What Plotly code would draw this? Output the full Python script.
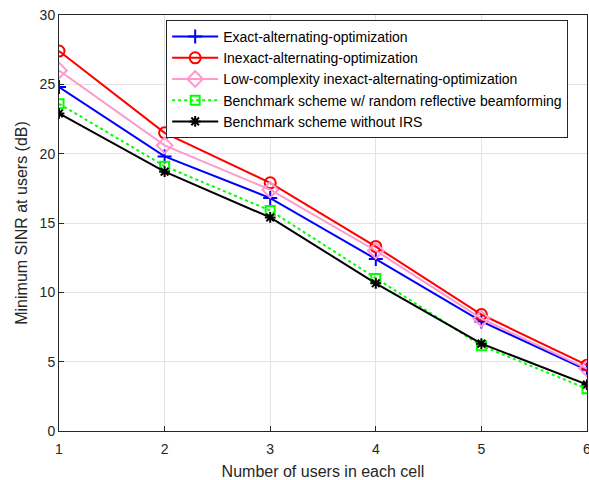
import plotly.graph_objects as go

users = [1, 2, 3, 4, 5, 6]
exact_ao = [24.8, 19.8, 16.8, 12.4, 7.9, 4.4]
inexact_ao = [27.4, 21.5, 17.9, 13.3, 8.4, 4.75]
low_complexity = [26.0, 20.6, 17.4, 13.0, 8.1, 4.5]
random_refl = [23.6, 19.1, 15.9, 11.0, 6.15, 3.05]
without_irs = [22.9, 18.7, 15.4, 10.65, 6.3, 3.35]

names = [
    "Exact-alternating-optimization",
    "Inexact-alternating-optimization",
    "Low-complexity inexact-alternating-optimization",
    "Benchmark scheme w/ random reflective beamforming",
    "Benchmark scheme without IRS",
]

fig = go.Figure()
series = [
    (exact_ao, names[0], "#0000FF", "solid", "cross-thin-open", 10),
    (inexact_ao, names[1], "#FF0000", "solid", "circle-open", 11),
    (low_complexity, names[2], "#FF99CC", "solid", "diamond-open", 12),
    (random_refl, names[3], "#00FF00", "dot", "square-open", 9),
    (without_irs, names[4], "#000000", "solid", "asterisk-open", 9),
]
for y, name, color, dash, sym, size in series:
    fig.add_trace(go.Scatter(
        x=users, y=y, name=name, mode="lines+markers",
        line=dict(color=color, width=2, dash=dash),
        marker=dict(symbol=sym, size=size, color=color, line=dict(color=color, width=2)),
    ))

fig.update_layout(
    width=589, height=480,
    margin=dict(l=59, r=2, t=15, b=49, autoexpand=False),
    paper_bgcolor="white", plot_bgcolor="white",
    font=dict(family="Liberation Sans, Arial, sans-serif", size=14, color="#262626"),
    showlegend=True,
    legend=dict(
        x=0.203, y=0.988, xanchor="left", yanchor="top",
        bgcolor="white", bordercolor="#262626", borderwidth=1,
        font=dict(size=14, color="#000000"),
        tracegroupgap=0, itemwidth=46,
    ),
    xaxis=dict(
        range=[1, 6], tickmode="array", tickvals=users, ticktext=[str(u) for u in users],
        showgrid=True, gridcolor="#E3E3E3", gridwidth=1,
        showline=True, linecolor="#262626", linewidth=1, mirror=True,
        ticks="inside", ticklen=5, tickcolor="#262626",
        zeroline=False, automargin=False, ticklabeloverflow="allow",
        ticklabelstandoff=5,
        title=dict(text="Number of users in each cell", font=dict(size=16), standoff=10),
    ),
    yaxis=dict(
        range=[0, 30], tickmode="array", tickvals=[0, 5, 10, 15, 20, 25, 30],
        showgrid=True, gridcolor="#E3E3E3", gridwidth=1,
        showline=True, linecolor="#262626", linewidth=1, mirror=True,
        ticks="inside", ticklen=5, tickcolor="#262626",
        zeroline=False, automargin=False, ticklabeloverflow="allow",
        title=dict(text="Minimum SINR at users (dB)", font=dict(size=16), standoff=8),
    ),
)

fig.write_html("out.html", config={"displayModeBar": False},
               post_script="document.body.style.margin='0';document.body.style.overflow='hidden';")
